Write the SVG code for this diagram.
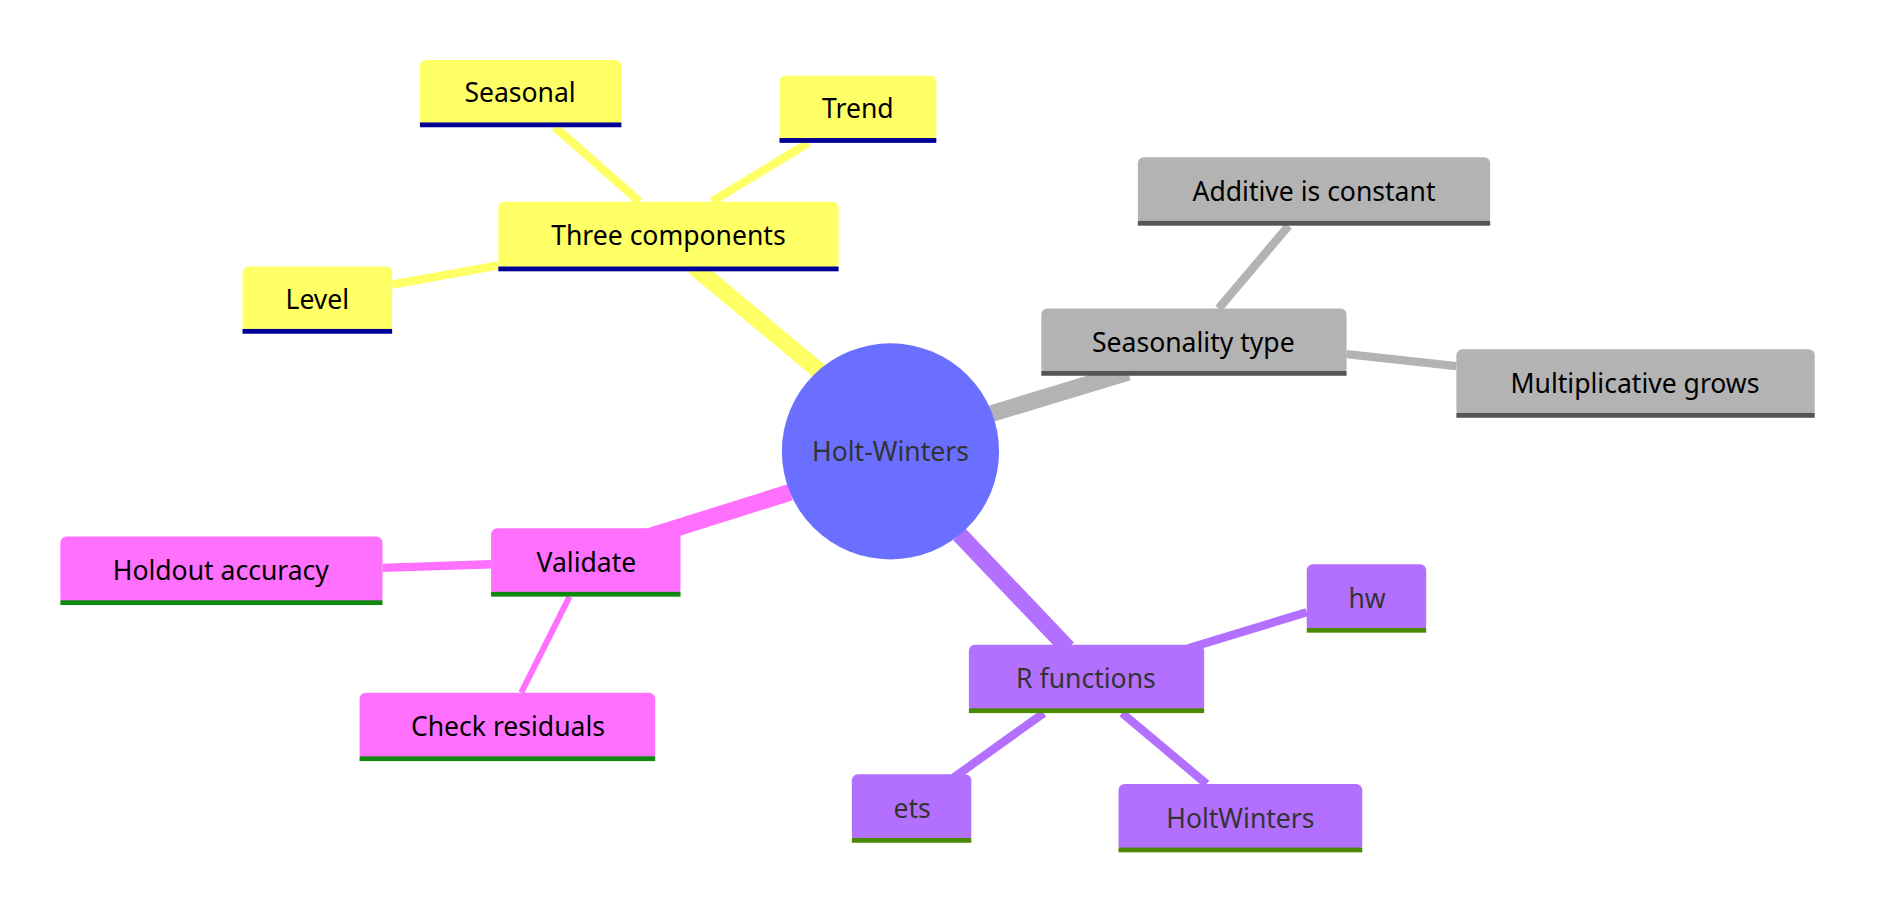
<svg xmlns="http://www.w3.org/2000/svg" width="1892" height="922" viewBox="0 0 1892 922">
<style>
text{font-family:"Noto Sans","Open Sans",sans-serif;font-size:22px;text-anchor:middle;dominant-baseline:central}
.y rect.b{fill:#ffff66}.y rect.u{fill:#000099}
.g rect.b{fill:#b3b3b3}.g rect.u{fill:#555555}
.p rect.b{fill:#ff70ff}.p rect.u{fill:#118811}
.v rect.b{fill:#b370ff}.v rect.u{fill:#4a8a00}
.v text{fill:#333}
line{stroke-linecap:butt}
</style>
<rect width="1892" height="922" fill="#fff"/>
<g transform="scale(1.2066 1.2005)">
<g id="connectors">
<line x1="680" y1="310" x2="575" y2="222" stroke="#ffff66" stroke-width="14"/>
<line x1="820" y1="345" x2="935" y2="310" stroke="#b3b3b3" stroke-width="14"/>
<line x1="655" y1="410" x2="538" y2="447" stroke="#ff70ff" stroke-width="14"/>
<line x1="795" y1="445" x2="885" y2="540" stroke="#b370ff" stroke-width="14"/>
<line x1="460" y1="106" x2="530" y2="168" stroke="#ffff66" stroke-width="7"/>
<line x1="670" y1="119" x2="590" y2="168" stroke="#ffff66" stroke-width="7"/>
<line x1="325" y1="237" x2="413" y2="221" stroke="#ffff66" stroke-width="7"/>
<line x1="1068" y1="188" x2="1010" y2="257" stroke="#b3b3b3" stroke-width="7"/>
<line x1="1116" y1="295" x2="1207" y2="305" stroke="#b3b3b3" stroke-width="7"/>
<line x1="317" y1="473" x2="407" y2="470" stroke="#ff70ff" stroke-width="7"/>
<line x1="432" y1="577" x2="472" y2="497" stroke="#ff70ff" stroke-width="5"/>
<line x1="1083" y1="510" x2="985" y2="540" stroke="#b370ff" stroke-width="7"/>
<line x1="790" y1="648" x2="865" y2="594" stroke="#b370ff" stroke-width="7"/>
<line x1="1000" y1="653" x2="930" y2="594" stroke="#b370ff" stroke-width="7"/>
</g>
<g id="root"><circle cx="738" cy="376" r="90" fill="#6b6fff"/><text x="738" y="376" fill="#333">Holt-Winters</text></g>
<g id="three" class="y"><rect class="b" x="413" y="168" width="282" height="56" rx="5"/><rect class="u" x="413" y="222" width="282" height="4"/><text x="554" y="196">Three components</text></g>
<g id="seasonal" class="y"><rect class="b" x="348" y="50" width="167" height="55" rx="5"/><rect class="u" x="348" y="102" width="167" height="4"/><text x="431" y="77">Seasonal</text></g>
<g id="trend" class="y"><rect class="b" x="646" y="63" width="130" height="55" rx="5"/><rect class="u" x="646" y="115" width="130" height="4"/><text x="711" y="90">Trend</text></g>
<g id="level" class="y"><rect class="b" x="201" y="222" width="124" height="55" rx="5"/><rect class="u" x="201" y="274" width="124" height="4"/><text x="263" y="249">Level</text></g>
<g id="seastype" class="g"><rect class="b" x="863" y="257" width="253" height="55" rx="5"/><rect class="u" x="863" y="309" width="253" height="4"/><text x="989" y="285">Seasonality type</text></g>
<g id="additive" class="g"><rect class="b" x="943" y="131" width="292" height="56" rx="5"/><rect class="u" x="943" y="184" width="292" height="4"/><text x="1089" y="159">Additive is constant</text></g>
<g id="mult" class="g"><rect class="b" x="1207" y="291" width="297" height="56" rx="5"/><rect class="u" x="1207" y="344" width="297" height="4"/><text x="1355" y="319">Multiplicative grows</text></g>
<g id="validate" class="p"><rect class="b" x="407" y="440" width="157" height="56" rx="5"/><rect class="u" x="407" y="493" width="157" height="4"/><text x="486" y="468">Validate</text></g>
<g id="holdout" class="p"><rect class="b" x="50" y="447" width="267" height="56" rx="5"/><rect class="u" x="50" y="500" width="267" height="4"/><text x="183" y="475">Holdout accuracy</text></g>
<g id="check" class="p"><rect class="b" x="298" y="577" width="245" height="56" rx="5"/><rect class="u" x="298" y="630" width="245" height="4"/><text x="421" y="605">Check residuals</text></g>
<g id="rfun" class="v"><rect class="b" x="803" y="537" width="195" height="56" rx="5"/><rect class="u" x="803" y="590" width="195" height="4"/><text x="900" y="565">R functions</text></g>
<g id="hw" class="v"><rect class="b" x="1083" y="470" width="99" height="56" rx="5"/><rect class="u" x="1083" y="523" width="99" height="4"/><text x="1133" y="498">hw</text></g>
<g id="ets" class="v"><rect class="b" x="706" y="645" width="99" height="56" rx="5"/><rect class="u" x="706" y="698" width="99" height="4"/><text x="756" y="673">ets</text></g>
<g id="holtwinters" class="v"><rect class="b" x="927" y="653" width="202" height="56" rx="5"/><rect class="u" x="927" y="706" width="202" height="4"/><text x="1028" y="681">HoltWinters</text></g>
</g>
</svg>
